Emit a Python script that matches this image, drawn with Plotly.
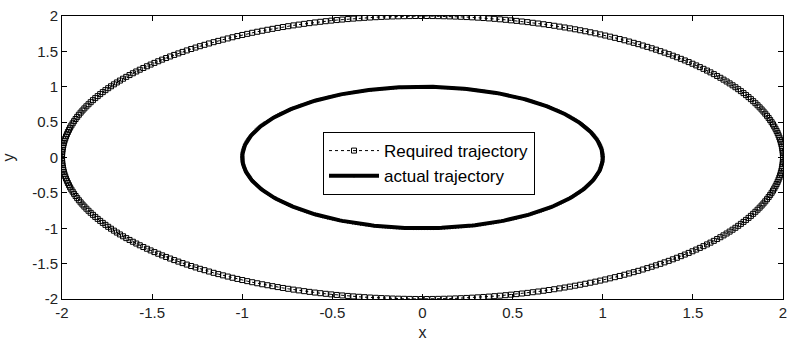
import numpy as np
import plotly.graph_objects as go

# Values
series_names = ["Required trajectory", "actual trajectory"]
semi_axis_x = [2.0, 1.0]      # ellipse half-widths
semi_axis_y = [2.0, 1.0]      # ellipse half-heights
center_x = [0.0, 0.0]
center_y = [0.0, 0.0]
n_samples = [400, 400]
x_ticks = [-2, -1.5, -1, -0.5, 0, 0.5, 1, 1.5, 2]
y_ticks = [-2, -1.5, -1, -0.5, 0, 0.5, 1, 1.5, 2]
x_tick_text = ["-2", "-1.5", "-1", "-0.5", "0", "0.5", "1", "1.5", "2"]
y_tick_text = ["-2", "-1.5", "-1", "-0.5", "0", "0.5", "1", "1.5", "2"]

def trajectory(i):
    t = np.linspace(0, 2 * np.pi, n_samples[i])
    return center_x[i] + semi_axis_x[i] * np.cos(t), center_y[i] + semi_axis_y[i] * np.sin(t)

fig = go.Figure()
x0, y0 = trajectory(0)
fig.add_trace(go.Scatter(
    x=x0, y=y0, mode="lines+markers", name=series_names[0],
    line=dict(color="black", width=1, dash="dot"),
    marker=dict(symbol="square-open", size=5, color="black", line=dict(width=1)),
))
x1, y1 = trajectory(1)
fig.add_trace(go.Scatter(
    x=x1, y=y1, mode="lines+markers", name=series_names[1],
    line=dict(color="black", width=4),
    marker=dict(symbol="triangle-down", size=4, color="black"),
))

font_family = "Liberation Sans, Arial"
axis_common = dict(
    showgrid=False, zeroline=False, showline=True, linecolor="black", linewidth=1,
    mirror="ticks", ticks="inside", ticklen=5, tickcolor="black", automargin=False,
    ticklabeloverflow="allow",
    tickfont=dict(family=font_family, size=15, color="#222"),
)
fig.update_layout(
    width=787, height=345,
    margin=dict(l=62, r=4, t=16, b=46),
    paper_bgcolor="white", plot_bgcolor="white",
    xaxis=dict(range=[-2, 2], tickvals=x_ticks, ticktext=x_tick_text,
               title=dict(text="x", font=dict(family=font_family, size=16, color="#222"), standoff=6),
               **axis_common),
    yaxis=dict(range=[-2, 2], tickvals=y_ticks, ticktext=y_tick_text,
               title=dict(text="y", font=dict(family=font_family, size=16, color="#222"), standoff=18),
               **axis_common),
    legend=dict(x=0.362, y=0.59, xanchor="left", yanchor="top",
                bordercolor="black", borderwidth=1, bgcolor="white",
                font=dict(family=font_family, size=17, color="black"),
                tracegroupgap=0, itemwidth=50),
    showlegend=True,
)
fig.write_html("out.html",
               config={"displayModeBar": False},
               post_script="document.body.style.margin='0';document.body.style.overflow='hidden';")
